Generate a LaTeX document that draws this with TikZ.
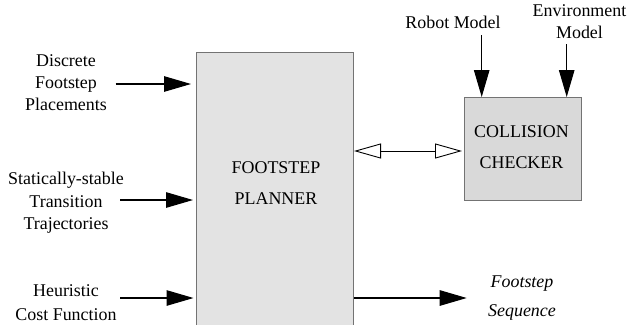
\documentclass[tikz,border=0pt]{standalone}
\usepackage{fontspec}
\setmainfont{Liberation Serif}
\usetikzlibrary{arrows.meta}
\begin{document}
\begin{tikzpicture}[x=1bp,y=-1bp,
  txt/.style={font=\fontsize{18}{22}\selectfont, align=center, inner sep=0pt},
  bigarrow/.style={-{Triangle[length=27bp,width=15.5bp]}, line width=1.1bp, black},
  openarrow/.style={{Triangle[open,length=27bp,width=15bp]}-{Triangle[open,length=27bp,width=15bp]}, line width=0.9bp, black},
  block/.style={draw=black!55, line width=1bp, inner sep=0pt}]
\useasboundingbox (0,0) rectangle (635,324);
\clip (0,0) rectangle (635,324);
% blocks
\node[block, fill=black!11, minimum width=157bp, minimum height=300bp, anchor=north west] (planner) at (196,52) {};
\node[txt, font=\fontsize{18}{31}\selectfont] (plannertxt) at (276,183) {FOOTSTEP\\PLANNER};
\node[block, fill=black!15, minimum width=117bp, minimum height=103bp, anchor=north west] (checker) at (463.5,97) {};
\node[txt, font=\fontsize{18}{31}\selectfont] (checkertxt) at (521.5,147) {COLLISION\\CHECKER};
% input texts
\node[txt] (disc) at (66,83) {Discrete\\Footstep\\Placements};
\node[txt, font=\fontsize{18}{22.5}\selectfont] (stat) at (66,203) {Statically-stable\\Transition\\Trajectories};
\node[txt, font=\fontsize{18}{24}\selectfont] (heur) at (66,303) {Heuristic\\Cost Function};
\node[txt] (robot) at (453,22) {Robot Model};
\node[txt] (env) at (579.5,22) {Environment\\Model};
\node[txt, font=\fontsize{18}{29}\selectfont\itshape] (out) at (522,298) {Footstep\\Sequence};
% coordinates for arrow starts
\coordinate (s1) at (115.5,84);
\coordinate (s2) at (120,200);
\coordinate (s3) at (120,298);
\coordinate (s4) at (481.7,35);
\coordinate (s5) at (566.7,44);
\coordinate (e6) at (466.7,298);
% arrows
\draw[bigarrow, shorten >=5bp] (s1) -- (s1 -| planner.west);
\draw[bigarrow, shorten >=3bp] (s2) -- (s2 -| planner.west);
\draw[bigarrow, shorten >=2.5bp] (s3) -- (s3 -| planner.west);
\draw[bigarrow] (s3 -| planner.east) -- (e6);
\draw[bigarrow] (s4) -- (s4 |- checker.north);
\draw[bigarrow] (s5) -- (s5 |- checker.north);
\draw[openarrow, shorten >=1.5bp] (planner.east |- 0,151) -- (checker.west |- 0,151);
\end{tikzpicture}
\end{document}
